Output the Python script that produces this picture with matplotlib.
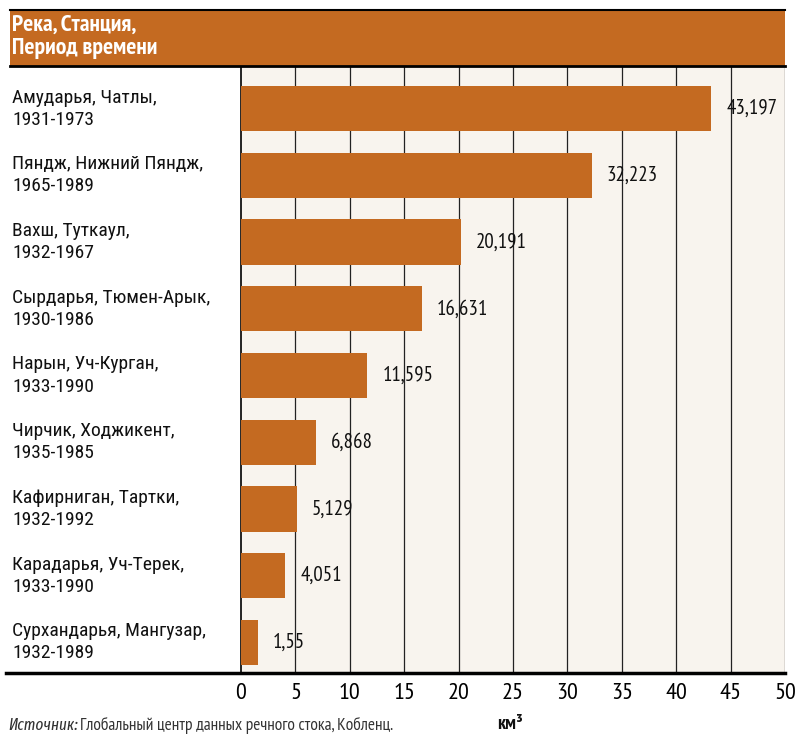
import matplotlib.pyplot as plt
from matplotlib.patches import Rectangle
from matplotlib.lines import Line2D

plt.rcParams['font.family'] = ['PT Sans Narrow', 'DejaVu Sans']
label_font = ['Roboto Condensed', 'DejaVu Sans']

# data
stations = ['Амударья, Чатлы,\n1931-1973',
            'Пяндж, Нижний Пяндж,\n1965-1989',
            'Вахш, Туткаул,\n1932-1967',
            'Сырдарья, Тюмен-Арык,\n1930-1986',
            'Нарын, Уч-Курган,\n1933-1990',
            'Чирчик, Ходжикент,\n1935-1985',
            'Кафирниган, Тартки,\n1932-1992',
            'Карадарья, Уч-Терек,\n1933-1990',
            'Сурхандарья, Мангузар,\n1932-1989']
flow = [43.197, 32.223, 20.191, 16.631, 11.595, 6.868, 5.129, 4.051, 1.55]
value_labels = ['43,197', '32,223', '20,191', '16,631', '11,595',
                '6,868', '5,129', '4,051', '1,55']
xticks = [0, 5, 10, 15, 20, 25, 30, 35, 40, 45, 50]

orange = '#C46A21'
cream = '#F8F4EE'

W, H = 797, 736
fig = plt.figure(figsize=(W / 100, H / 100), dpi=100)

def fx(px):
    return px / W

def fy(py):
    return 1 - py / H

ax = fig.add_axes([fx(241), fy(673), fx(785 - 241), (673 - 66) / H])
ax.set_facecolor(cream)

ypos = list(range(len(stations)))
ax.barh(ypos, flow, height=0.68, color=orange, zorder=3)
ax.set_xlim(0, 50)
ax.set_ylim(8.46, -0.64)

for x in xticks[1:]:
    ax.axvline(x, color='#222222', lw=0.9, zorder=1)

for y, v, lab in zip(ypos, flow, value_labels):
    ax.text(v + 1.4, y, lab, va='center', ha='left', fontsize=15, color='#111111',
            zorder=4)

ax.set_xticks(xticks)
ax.set_xticklabels([str(t) for t in xticks], fontsize=17.5)
ax.tick_params(axis='x', length=0, pad=7)
ax.set_yticks([])
for s in ['top', 'right', 'bottom']:
    ax.spines[s].set_visible(False)
ax.spines['left'].set_color('black')
ax.spines['left'].set_linewidth(1.2)

# station labels in the left column
for y, name in zip(ypos, stations):
    yd = ax.transData.transform((0, y))[1]
    yf = fig.transFigure.inverted().transform((0, yd))[1]
    fig.text(fx(12), yf, name, ha='left', va='center', fontsize=14,
             linespacing=1.3, color='#111111', family=label_font)

# header band
fig.patches.append(Rectangle((fx(10), fy(66)), fx(785 - 10), (66 - 10) / H,
                             transform=fig.transFigure, facecolor=orange,
                             edgecolor='none', zorder=0))
fig.lines.append(Line2D([fx(10), fx(785)], [fy(10), fy(10)],
                        transform=fig.transFigure, color='black', lw=1.5))
fig.lines.append(Line2D([fx(10), fx(785)], [fy(66), fy(66)],
                        transform=fig.transFigure, color='black', lw=2))
fig.text(fx(12), fy(37), 'Река, Станция,\nПериод времени', ha='left', va='center',
         fontsize=17, fontweight='bold', color='white', linespacing=1.15)

# bottom axis line
fig.lines.append(Line2D([fx(6), fx(785)], [fy(673), fy(673)],
                        transform=fig.transFigure, color='black', lw=2.5))

# footer
fig.text(fx(8), fy(725), 'Источник:', ha='left', va='center', fontsize=12,
         style='italic', color='#333333', family=['Fira Sans Extra Condensed', 'DejaVu Sans'])
fig.text(fx(80), fy(725), 'Глобальный центр данных речного стока, Кобленц.',
         ha='left', va='center', fontsize=12.5, color='#333333')
fig.text(fx(497), fy(724), 'км³', ha='left', va='center', fontsize=14,
         fontweight='bold', color='#111111')

fig.savefig('out.png', dpi=100)
